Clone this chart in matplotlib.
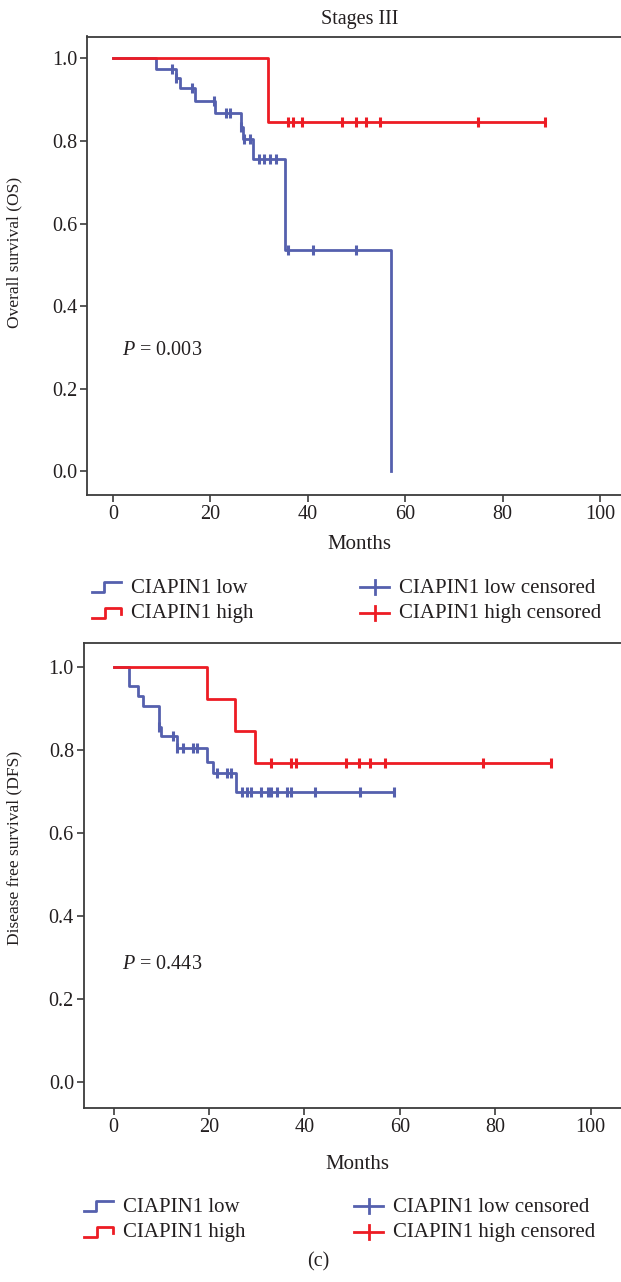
import numpy as np
import matplotlib
matplotlib.use("Agg")
import matplotlib.pyplot as plt
from matplotlib.lines import Line2D
from matplotlib.legend_handler import HandlerBase

# ── DATA ──────────────────────────────────────────────────
# Overall survival, CIAPIN1 low
os_low_t = [0, 8.9, 13.0, 13.8, 16.8, 20.9, 26.2, 26.7, 28.8, 35.3, 57.1]
os_low_s = [1.0, 0.975, 0.952, 0.928, 0.897, 0.867, 0.835, 0.805, 0.756, 0.536, 0.0]
os_low_cens = [12.1, 13.0, 16.2, 20.8, 23.1, 24.0, 26.2, 26.9, 28.1, 29.9,
               31.0, 32.2, 33.4, 35.9, 41.1, 49.9]
# Overall survival, CIAPIN1 high
os_high_t = [0, 31.9]
os_high_s = [1.0, 0.846]
os_high_cens = [36.0, 36.9, 38.9, 47.0, 49.8, 51.9, 54.8, 74.9, 88.8]

# Disease free survival, CIAPIN1 low
dfs_low_t = [0, 3.3, 5.2, 6.2, 9.5, 9.9, 13.2, 19.5, 20.8, 25.6]
dfs_low_s = [1.0, 0.954, 0.928, 0.905, 0.854, 0.832, 0.803, 0.771, 0.743, 0.697]
dfs_low_cens = [9.5, 12.5, 13.3, 14.5, 16.7, 17.5, 21.7, 23.7, 24.7, 27.0, 27.9,
                28.9, 31.0, 32.4, 32.9, 34.2, 36.3, 37.1, 42.3, 51.7, 58.8]
# Disease free survival, CIAPIN1 high
dfs_high_t = [0, 19.5, 25.5, 29.6]
dfs_high_s = [1.0, 0.923, 0.846, 0.769]
dfs_high_cens = [32.9, 37.1, 38.2, 48.7, 51.5, 53.8, 56.8, 77.4, 91.7]

x_ticks = [0, 20, 40, 60, 80, 100]
y_ticks = [0.0, 0.2, 0.4, 0.6, 0.8, 1.0]
labels = ["CIAPIN1 low", "CIAPIN1 high",
          "CIAPIN1 low censored", "CIAPIN1 high censored"]

# ── STYLE ─────────────────────────────────────────────────
BLUE = "#5560ae"
RED = "#ed1c24"
AXIS = "#3c3c3c"
TXT = "#231f20"
FONT = ["Liberation Serif", "DejaVu Serif"]

plt.rcParams["font.family"] = FONT
plt.rcParams["mathtext.fontset"] = "custom"
plt.rcParams["mathtext.rm"] = "Liberation Serif"
plt.rcParams["mathtext.it"] = "Liberation Serif:italic"
plt.rcParams["text.color"] = TXT
plt.rcParams["axes.labelcolor"] = TXT
plt.rcParams["xtick.color"] = AXIS
plt.rcParams["ytick.color"] = AXIS
plt.rcParams["xtick.labelcolor"] = TXT
plt.rcParams["ytick.labelcolor"] = TXT

FS = 14.5


class KMHandler(HandlerBase):
    def __init__(self, kind):
        super().__init__()
        self.kind = kind

    def create_artists(self, legend, orig_handle, xdescent, ydescent,
                       width, height, fontsize, trans):
        c = orig_handle.get_color()
        x0, y0 = -xdescent, -ydescent
        lo, hi, mid = y0 + 0.05 * height, y0 + 0.7 * height, y0 + 0.38 * height
        if self.kind == "low":
            xs = [x0, x0 + 0.42 * width, x0 + 0.42 * width, x0 + width]
            ys = [lo, lo, hi, hi]
            arts = [Line2D(xs, ys, color=c, lw=2.0)]
        elif self.kind == "high":
            xs = [x0, x0 + 0.45 * width, x0 + 0.45 * width, x0 + width, x0 + width]
            ys = [lo, lo, hi, hi, lo + 0.25 * height]
            arts = [Line2D(xs, ys, color=c, lw=2.0)]
        else:
            xm = x0 + width / 2
            arts = [Line2D([x0, x0 + width], [mid, mid], color=c, lw=2.0),
                    Line2D([xm, xm], [mid - 0.5 * height, mid + 0.5 * height],
                           color=c, lw=2.0)]
        for a in arts:
            a.set_transform(trans)
        return arts


def _level(t, s, x):
    i = np.searchsorted(t, x, side="right") - 1
    return np.asarray(s)[i]


def _km(ax, t, s, cens, color, end=None):
    tt = list(t)
    ss = list(s)
    if end is not None:
        tt.append(end)
        ss.append(ss[-1])
    ax.step(tt, ss, where="post", color=color, lw=2.0, zorder=3)
    ys = [_level(t, s, c) for c in cens]
    ax.plot(cens, ys, ls="none", marker="|", ms=7, mew=2.2, color=color, zorder=4)


def _style(ax, xlim, ylim):
    ax.set_xlim(*xlim)
    ax.set_ylim(*ylim)
    ax.set_xticks(x_ticks)
    ax.set_yticks(y_ticks)
    ax.set_yticklabels([f"{v:.1f}" for v in y_ticks])
    ax.tick_params(direction="out", length=5, width=1.2, labelsize=FS, pad=2)
    for side in ("left", "bottom", "top", "right"):
        ax.spines[side].set_color(AXIS)
        ax.spines[side].set_linewidth(1.3)


def _legend(fig, y, x1, x2, handles):
    h_low, h_high, h_lc, h_hc = handles
    kw = dict(frameon=False, fontsize=15, handlelength=1.4, handletextpad=0.45,
              labelspacing=0.3, borderpad=0, borderaxespad=0, loc="upper left")
    l1 = fig.legend([h_low, h_high], labels[:2], bbox_to_anchor=(x1, y),
                    handler_map={h_low: KMHandler("low"), h_high: KMHandler("high")}, **kw)
    l2 = fig.legend([h_lc, h_hc], labels[2:], bbox_to_anchor=(x2, y),
                    handler_map={h_lc: KMHandler("cens"), h_hc: KMHandler("cens")}, **kw)
    return l1, l2


W, H = 621, 1282
fig = plt.figure(figsize=(W / 100, H / 100), dpi=100)

# ── OS panel ─────────────────────────────────────────────
ax1 = fig.add_axes([87 / W, 1 - 495 / H, 545 / W, (495 - 36.5) / H])
_km(ax1, os_low_t, os_low_s, os_low_cens, BLUE)
_km(ax1, os_high_t, os_high_s, os_high_cens, RED, end=os_high_cens[-1])
_style(ax1, (-5.36, 106.6), (-0.057, 1.053))
ax1.set_title("Stages III", fontsize=FS, pad=9)
ax1.set_xlabel("Months", fontsize=15, labelpad=8)
ax1.set_ylabel("Overall survival (OS)", fontsize=12.5)
ax1.yaxis.set_label_coords(-0.118, 0.53)
ax1.text(1.8, 0.294, "$P$ = 0.003", fontsize=FS, va="center")

# ── DFS panel ────────────────────────────────────────────
ax2 = fig.add_axes([83.6 / W, 1 - 1108.3 / H, 548 / W, (1108.3 - 643.3) / H])
_km(ax2, dfs_low_t, dfs_low_s, dfs_low_cens, BLUE, end=dfs_low_cens[-1])
_km(ax2, dfs_high_t, dfs_high_s, dfs_high_cens, RED, end=dfs_high_cens[-1])
_style(ax2, (-6.3, 108.6), (-0.063, 1.056))
ax2.set_xlabel("Months", fontsize=15, labelpad=13)
ax2.set_ylabel("Disease free survival (DFS)", fontsize=12.5)
ax2.yaxis.set_label_coords(-0.112, 0.56)
ax2.text(1.8, 0.282, "$P$ = 0.443", fontsize=FS, va="center")

handles = [Line2D([], [], color=BLUE), Line2D([], [], color=RED),
           Line2D([], [], color=BLUE), Line2D([], [], color=RED)]
_legend(fig, 1 - 578 / H, 92 / W, 360 / W, handles)
handles2 = [Line2D([], [], color=BLUE), Line2D([], [], color=RED),
            Line2D([], [], color=BLUE), Line2D([], [], color=RED)]
_legend(fig, 1 - 1197 / H, 84 / W, 354 / W, handles2)

fig.text(318 / W, 1 - 1262 / H, "(c)", fontsize=FS, ha="center", va="center")

fig.savefig("out.png", dpi=100, facecolor="white")
